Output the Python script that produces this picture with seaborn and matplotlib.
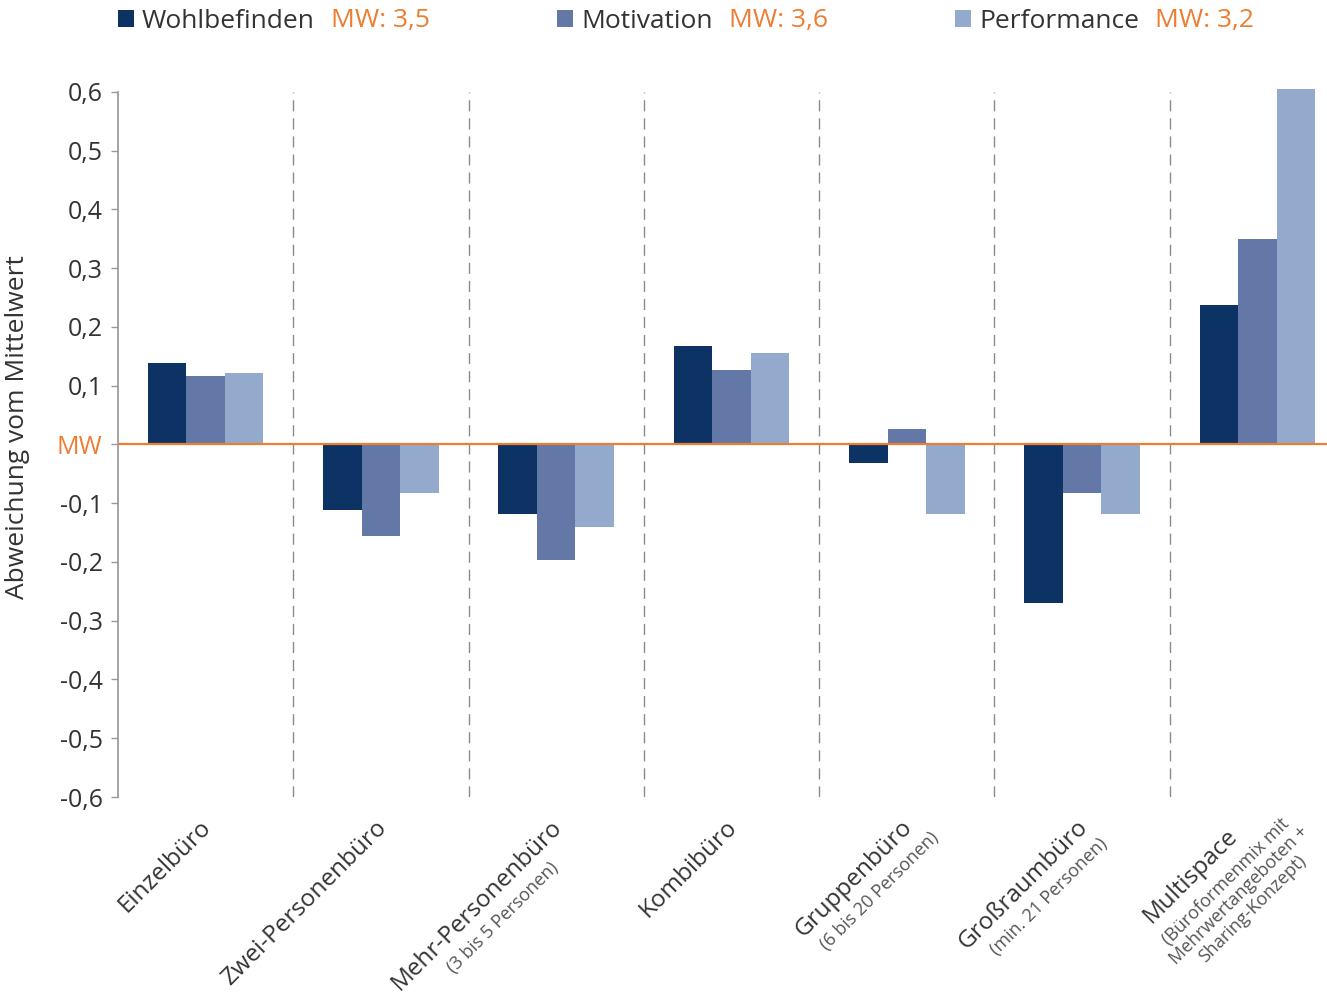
import numpy as np
import pandas as pd
import matplotlib.pyplot as plt
import seaborn as sns

sns.set_theme(style="white")
plt.rcParams['font.family'] = ['Open Sans', 'DejaVu Sans']

# Data
categories = ['Einzelbüro', 'Zwei-Personenbüro', 'Mehr-Personenbüro', 'Kombibüro',
              'Gruppenbüro', 'Großraumbüro', 'Multispace']
subtitles = ['', '', '(3 bis 5 Personen)', '', '(6 bis 20 Personen)', '(min. 21 Personen)',
             '(Büroformenmix mit\nMehrwertangeboten +\nSharing-Konzept)']
series = ['Wohlbefinden', 'Motivation', 'Performance']
series_mw = ['MW: 3,5', 'MW: 3,6', 'MW: 3,2']
wohlbefinden = [0.138, -0.112, -0.119, 0.167, -0.031, -0.270, 0.238]
motivation = [0.116, -0.155, -0.196, 0.126, 0.027, -0.083, 0.349]
performance = [0.121, -0.083, -0.141, 0.156, -0.119, -0.119, 0.605]
yticks = [-0.6, -0.5, -0.4, -0.3, -0.2, -0.1, 0.0, 0.1, 0.2, 0.3, 0.4, 0.5, 0.6]

colors = ['#0d3264', '#6478a8', '#94aacd']
ORANGE = '#ED7D31'
TXT = '#333333'

df = pd.DataFrame({
    'Büroform': categories * 3,
    'Dimension': np.repeat(series, len(categories)),
    'Abweichung': wohlbefinden + motivation + performance,
})

fig = plt.figure(figsize=(13.27, 9.98), dpi=100)
W, H = fig.get_size_inches() * fig.dpi
ax = fig.add_axes([118 / W, 1 - 797 / H, (1345 - 118) / W, (797 - 86) / H])

sns.barplot(data=df, x='Büroform', y='Abweichung', hue='Dimension', order=categories,
            hue_order=series, palette=colors, width=0.66, saturation=1, ax=ax,
            edgecolor='none', linewidth=0)

handles = ax.get_legend().legend_handles
ax.get_legend().remove()

ax.set_xlim(-0.5, 6.5)
ax.set_ylim(-0.6, 0.61)

# zero line (MW) and group separators
ax.axhline(0, color=ORANGE, linewidth=1.6, zorder=3)
ax.vlines(np.arange(0.5, 6.5, 1), -0.6, 0.6, colors='#8a8a8a', linestyles=(0, (8, 5)), linewidth=1.0)

# spines / ticks
for s in ['top', 'right', 'bottom']:
    ax.spines[s].set_visible(False)
ax.spines['left'].set_color('#9a9a9a')
ax.spines['left'].set_bounds(-0.6, 0.6)
ax.set_yticks(yticks)
ax.set_yticklabels(['MW' if v == 0 else f'{v:.1f}'.replace('.', ',') for v in yticks])
ax.tick_params(axis='y', left=True, length=5, width=1, color='#9a9a9a', labelsize=18,
               labelcolor=TXT, pad=6)
for lab in ax.get_yticklabels():
    if lab.get_text() == 'MW':
        lab.set_color(ORANGE)
ax.set_xticks([])
ax.set_xlabel('')
ax.set_ylabel('Abweichung vom Mittelwert', fontsize=19, color=TXT)
ax.yaxis.set_label_coords(-0.072, 0.52)

# legend on top
leg = ax.legend(handles, series, loc='center left', bbox_to_anchor=(118 / W, 1 - 21 / H),
                bbox_transform=fig.transFigure, ncol=3, frameon=False, fontsize=19,
                handlelength=0.6, handleheight=0.6, handletextpad=0.3, columnspacing=9.2,
                borderaxespad=0, borderpad=0, labelcolor=TXT)

fig.canvas.draw()
r = fig.canvas.get_renderer()
for t, mw in zip(leg.get_texts(), series_mw):
    bb = t.get_window_extent(r)
    fig.text((bb.x1 + 16) / W, (bb.y0 + bb.y1) / 2 / H, mw, color=ORANGE, fontsize=19,
             ha='left', va='center')

# rotated category labels with smaller subtitles
u = np.array([np.cos(np.pi / 4), np.sin(np.pi / 4)])
v = np.array([np.sin(np.pi / 4), -np.cos(np.pi / 4)])
for i, (name, sub) in enumerate(zip(categories, subtitles)):
    px, py = ax.transData.transform((i, -0.6))
    n = sub.count('\n') + 1
    anchor = np.array([px + 2, py - 27]) - (u * 12 + v * 6) * (n - 1)
    t = fig.text(anchor[0] / W, anchor[1] / H, name, fontsize=17.5, color=TXT,
                 ha='right', va='center', rotation=0, rotation_mode='anchor')
    w = t.get_window_extent(r).width
    t.set_rotation(45)
    if sub:
        c = anchor - u * w / 2 + v * (27 + (n - 1) * 10.5) + u * (10 + 5.5 * (n - 1))
        fig.text(c[0] / W, c[1] / H, sub, fontsize=13, color='#555555', ha='center',
                 va='center', rotation=45, rotation_mode='anchor', multialignment='center',
                 linespacing=1.1)

fig.savefig('out.png', dpi=100)
